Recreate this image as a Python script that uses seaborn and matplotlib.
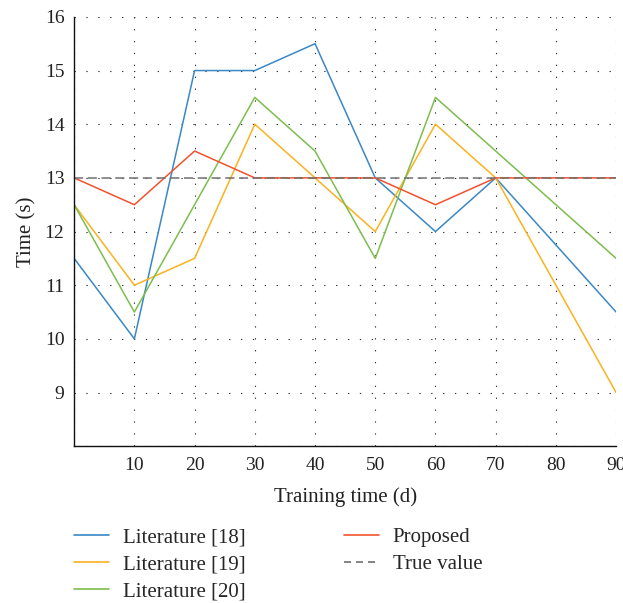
import matplotlib
matplotlib.use("Agg")
import matplotlib.pyplot as plt
import seaborn as sns
import pandas as pd
from matplotlib.lines import Line2D

days = [0, 10, 20, 30, 40, 50, 60, 70, 80, 90]
lit18 = [11.5, 10, 15, 15, 15.5, 13, 12, 13, 11.75, 10.5]
lit19 = [12.5, 11, 11.5, 14, 13, 12, 14, 13, 11, 9]
lit20 = [12.5, 10.5, 12.5, 14.5, 13.5, 11.5, 14.5, 13.5, 12.5, 11.5]
proposed = [13, 12.5, 13.5, 13, 13, 13, 12.5, 13, 13, 13]
true_value = [13, 13, 13, 13, 13, 13, 13, 13, 13, 13]

names = ["Literature [18]", "Literature [19]", "Literature [20]", "Proposed", "True value"]
series = [lit18, lit19, lit20, proposed, true_value]
colors = ["#3a88c6", "#fbb21f", "#7dbd4e", "#f2512f", "#707070"]

rows = []
for n, s in zip(names, series):
    for d, v in zip(days, s):
        rows.append({"day": d, "value": v, "series": n})
df = pd.DataFrame(rows)

sns.set_theme(style="white")
plt.rcParams["font.family"] = ["Liberation Serif", "DejaVu Serif"]

fig = plt.figure(figsize=(6.23, 6.03), dpi=100)
ax = fig.add_axes([0.119, 0.260, 0.870, 0.712])

palette = dict(zip(names, colors))
for n in names[:4]:
    sns.lineplot(data=df[df.series == n], x="day", y="value", color=palette[n],
                 lw=1.1, ax=ax, legend=False)
sns.lineplot(data=df[df.series == "True value"], x="day", y="value", color=palette["True value"],
             lw=1.1, ax=ax, legend=False, linestyle=(0, (6, 3)))

ax.set_xlim(0, 90)
ax.set_ylim(8, 16)
ax.set_xticks(days)
ax.set_xticklabels([""] + [str(d) for d in days[1:]])
ax.set_yticks([8, 9, 10, 11, 12, 13, 14, 15, 16])
ax.set_yticklabels(["", "9", "10", "11", "12", "13", "14", "15", "16"])
ax.tick_params(direction="in", length=4, labelsize=14, colors="#222222", width=0.8)
ax.tick_params(axis="x", pad=8)
ax.tick_params(axis="y", pad=7)
ax.grid(True, color="#333333", linestyle=(0, (1.2, 9.5)), linewidth=0.8)
for side in ["top", "right"]:
    ax.spines[side].set_visible(False)
for side in ["left", "bottom"]:
    ax.spines[side].set_color("#111111")
    ax.spines[side].set_linewidth(1.0)
ax.set_xlabel("Training time (d)", fontsize=15, labelpad=9.5, color="#222222")
ax.set_ylabel("Time (s)", fontsize=15, labelpad=6, color="#222222")

handles = []
for n, c in zip(names, colors):
    ls = (0, (4.2, 3)) if n == "True value" else "-"
    handles.append(Line2D([], [], color=c, lw=1.2, linestyle=ls, label=n))
fig.legend(handles=handles, loc="upper left", bbox_to_anchor=(0.119, 0.125),
           ncol=2, frameon=False, fontsize=15, handlelength=1.68, handletextpad=0.67,
           columnspacing=4.7, labelspacing=0.36, borderaxespad=0, borderpad=0)

fig.savefig("out.png", dpi=100)
